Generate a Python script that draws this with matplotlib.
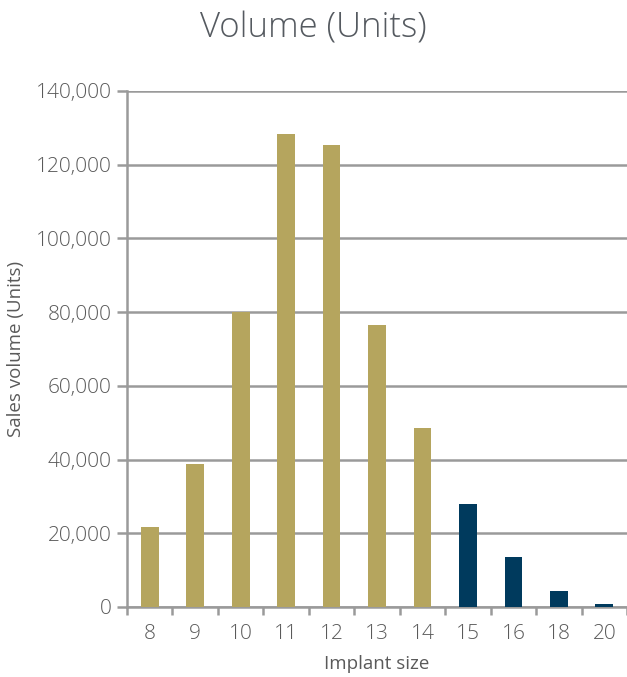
import matplotlib
matplotlib.use("Agg")
import matplotlib.pyplot as plt
from matplotlib.ticker import FuncFormatter, FixedLocator
import numpy as np

plt.rcParams['font.family'] = ['Open Sans', 'DejaVu Sans']
plt.rcParams['font.weight'] = 'light'

sizes = ["8", "9", "10", "11", "12", "13", "14", "15", "16", "18", "20"]
volumes = [21600, 38800, 80000, 128300, 125400, 76400, 48500, 27900, 13500, 4400, 800]
gold = "#B5A55E"
navy = "#003A5D"
colors = [gold] * 7 + [navy] * 4

fig = plt.figure(figsize=(6.27, 6.77), dpi=100)
ax = fig.add_axes([0.2026, 0.1034, 0.7974, 0.7622])

x = np.arange(len(sizes))
ax.bar(x, volumes, width=0.39, color=colors, zorder=3)

ax.set_xlim(-0.5, len(sizes) - 0.5)
ax.set_ylim(0, 140000)
ax.set_yticks(np.arange(0, 140001, 20000))
ax.yaxis.set_major_formatter(FuncFormatter(lambda v, p: f"{int(v):,}"))
ax.set_xticks(x)
ax.set_xticklabels(sizes)
ax.xaxis.set_minor_locator(FixedLocator(np.arange(-0.5, len(sizes), 1)))

grid_c = "#9A9A9A"
txt_c = "#5A5A5A"
ax.grid(axis='y', color=grid_c, linewidth=1.8, zorder=0)
for s in ['top', 'right']:
    ax.spines[s].set_visible(False)
ax.spines['left'].set_color(grid_c)
ax.spines['left'].set_linewidth(1.8)
ax.spines['bottom'].set_color(grid_c)
ax.spines['bottom'].set_linewidth(1.8)
ax.tick_params(axis='y', length=7, width=1.8, color=grid_c, labelsize=15, labelcolor=txt_c, pad=4)
ax.tick_params(axis='x', which='major', length=0, labelsize=15, labelcolor=txt_c, pad=12)
ax.tick_params(axis='x', which='minor', length=6, width=1.8, color=grid_c)

ax.set_xlabel("Implant size", fontsize=13.5, color=txt_c, labelpad=8)
ax.set_ylabel("Sales volume (Units)", fontsize=13.5, color=txt_c, labelpad=8)
fig.text(0.5, 0.958, "Volume (Units)", ha='center', va='center', fontsize=25, color="#555A60")

fig.savefig("out.png", dpi=100)
